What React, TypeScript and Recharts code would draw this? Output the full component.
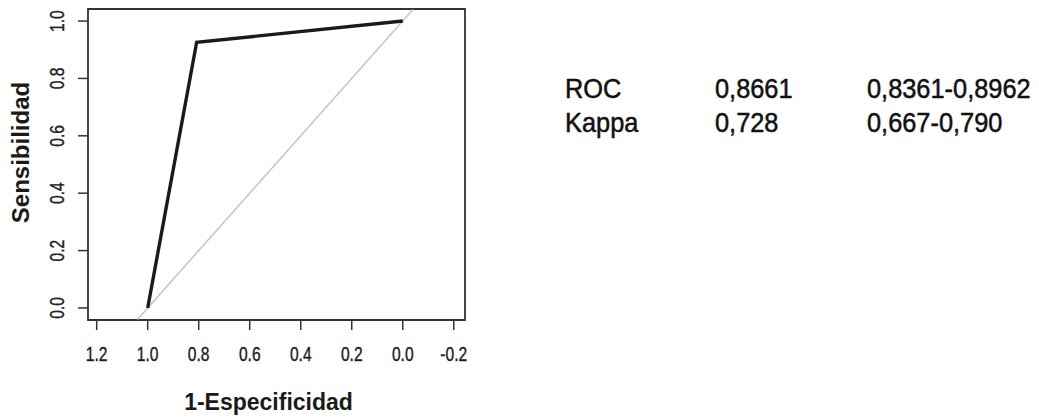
import { LineChart, Line, XAxis, YAxis, ReferenceArea, Label } from 'recharts';

// ROC curve points (x axis = specificity, drawn reversed as in pROC)
const rocSpecificity = [1.0, 0.808, 0.0];
const rocSensitivity = [0.0, 0.926, 1.0];

// chance diagonal, clipped at the plot box
const chanceSpecificity = [1.04, -0.04];
const chanceSensitivity = [-0.04, 1.04];

const xTicks = [1.2, 1.0, 0.8, 0.6, 0.4, 0.2, 0.0, -0.2];
const yTicks = [0.0, 0.2, 0.4, 0.6, 0.8, 1.0];

const statNames = ['ROC', 'Kappa'];
const statValues = ['0,8661', '0,728'];
const statIntervals = ['0,8361-0,8962', '0,667-0,790'];

const X_DOMAIN: [number, number] = [-0.244, 1.234];
const Y_DOMAIN: [number, number] = [-0.042, 1.042];

const rocData = rocSpecificity.map((x, i) => ({ x, y: rocSensitivity[i] }));
const chanceData = chanceSpecificity.map((x, i) => ({ x, y: chanceSensitivity[i] }));

const SANS = "'Liberation Sans', Arial, Helvetica, sans-serif";

// R style tick labels are narrow, so squeeze them a bit
const XTick = (props: any) => {
    const { x, y, payload } = props;
    return (
        <text
            transform={`translate(${x},${y}) scale(0.78,1)`}
            textAnchor="middle"
            dy="0.71em"
            fill="#222"
            stroke="#222"
            strokeWidth={0.4}
            fontSize={20}
            fontFamily={SANS}
        >
            {payload.value.toFixed(1)}
        </text>
    );
};

const YTick = (props: any) => {
    const { x, y, payload } = props;
    return (
        <text
            transform={`translate(${x - 12},${y}) rotate(-90) scale(0.78,1)`}
            textAnchor="middle"
            fill="#222"
            stroke="#222"
            strokeWidth={0.4}
            fontSize={20}
            fontFamily={SANS}
        >
            {payload.value.toFixed(1)}
        </text>
    );
};

export default function App() {
    return (
        <div style={{ position: 'fixed', left: 0, top: 0, width: 1039, height: 419, background: '#fff' }}>
            <LineChart
                width={1039}
                height={419}
                margin={{ top: 9, right: 574, left: 28, bottom: 69 }}
            >
                <XAxis
                    type="number"
                    dataKey="x"
                    domain={X_DOMAIN}
                    reversed
                    allowDataOverflow
                    ticks={xTicks}
                    interval={0}
                    axisLine={false}
                    tickSize={10}
                    tickMargin={17}
                    height={30}
                    tickLine={{ stroke: '#333', strokeWidth: 1.5 }}
                    tick={<XTick />}
                >
                    <Label
                        value="1-Especificidad"
                        position="bottom"
                        offset={44}
                        dx={-8}
                        style={{ fill: '#1a1a1a', fontSize: 23, fontWeight: 'bold', fontFamily: SANS }}
                    />
                </XAxis>
                <YAxis
                    type="number"
                    dataKey="y"
                    domain={Y_DOMAIN}
                    allowDataOverflow
                    ticks={yTicks}
                    interval={0}
                    axisLine={false}
                    tickSize={10}
                    width={60}
                    tickLine={{ stroke: '#333', strokeWidth: 1.5 }}
                    tick={<YTick />}
                >
                    <Label
                        value="Sensibilidad"
                        angle={-90}
                        position="insideLeft"
                        offset={-8}
                        dy={-12}
                        style={{ fill: '#1a1a1a', fontSize: 24, fontWeight: 'bold', fontFamily: SANS, textAnchor: 'middle' }}
                    />
                </YAxis>
                <ReferenceArea
                    x1={X_DOMAIN[1]}
                    x2={X_DOMAIN[0]}
                    y1={Y_DOMAIN[0]}
                    y2={Y_DOMAIN[1]}
                    fill="none"
                    stroke="#333"
                    strokeWidth={1.8}
                    ifOverflow="visible"
                />
                <Line
                    data={chanceData}
                    dataKey="y"
                    type="linear"
                    stroke="#c4c4c4"
                    strokeWidth={1.5}
                    dot={false}
                    isAnimationActive={false}
                />
                <Line
                    data={rocData}
                    dataKey="y"
                    type="linear"
                    stroke="#1a1a1a"
                    strokeWidth={3.4}
                    dot={false}
                    isAnimationActive={false}
                />
            </LineChart>
            <svg
                width={1039}
                height={419}
                style={{ position: 'absolute', left: 0, top: 0, pointerEvents: 'none' }}
            >
                {statNames.map((name, i) => {
                    const y = 98 + i * 34;
                    return (
                        <g key={name} fill="#111" stroke="#111" strokeWidth={0.5} fontSize={27} fontFamily={SANS}>
                            <text transform={`translate(565,${y}) scale(0.94,1)`}>{name}</text>
                            <text transform={`translate(715,${y}) scale(0.94,1)`}>{statValues[i]}</text>
                            <text transform={`translate(867,${y}) scale(0.94,1)`}>{statIntervals[i]}</text>
                        </g>
                    );
                })}
            </svg>
        </div>
    );
}
